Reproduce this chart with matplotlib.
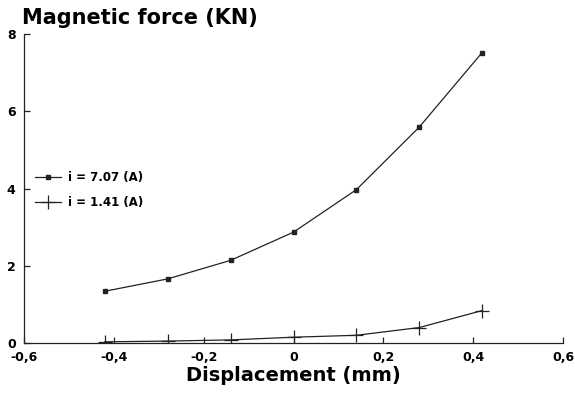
import matplotlib
matplotlib.use("Agg")
import matplotlib.pyplot as plt

displacement = [-0.42, -0.28, -0.14, 0.0, 0.14, 0.28, 0.42]
force_707 = [1.34, 1.66, 2.14, 2.87, 3.97, 5.59, 7.52]
force_141 = [0.03, 0.05, 0.08, 0.15, 0.20, 0.40, 0.84]
label_707 = "i = 7.07 (A)"
label_141 = "i = 1.41 (A)"
xticks = [-0.6, -0.4, -0.2, 0, 0.2, 0.4, 0.6]
xticklabels = ["-0,6", "-0,4", "-0,2", "0", "0,2", "0,4", "0,6"]
yticks = [0, 2, 4, 6, 8]

plt.rcParams['font.family'] = ['DejaVu Sans']
fig = plt.figure(figsize=(5.75, 3.98), dpi=100)
ax = fig.add_axes([24/575, 1-343/398, (563-24)/575, (343-34)/398])

c = "#222222"
ax.plot(displacement, force_707, color=c, lw=0.9, marker='s', ms=3, mfc=c, mec=c, label=label_707)
ax.plot(displacement, force_141, color=c, lw=0.9, marker='+', ms=10, mew=0.9, label=label_141)

ax.set_xlim(-0.6, 0.6)
ax.set_ylim(0, 8)
ax.set_xticks(xticks)
ax.set_xticklabels(xticklabels)
ax.set_yticks(yticks)
ax.tick_params(direction='in', length=4, width=0.9, colors=c, labelsize=9, pad=6)
for lab in ax.get_xticklabels() + ax.get_yticklabels():
    lab.set_fontweight('bold')
    lab.set_color('black')
for s in ['top', 'right']:
    ax.spines[s].set_visible(False)
for s in ['left', 'bottom']:
    ax.spines[s].set_color(c)
    ax.spines[s].set_linewidth(0.9)

ax.set_xlabel("Displacement (mm)", fontsize=14, fontweight='bold', labelpad=1)
fig.text(22/575, 1-18/398, "Magnetic force (KN)", fontsize=15, fontweight='bold',
         ha='left', va='center')

leg = ax.legend(loc='upper left', bbox_to_anchor=(0.005, 0.582), frameon=False,
                prop={'weight': 'bold', 'size': 8.5}, handlelength=2.2,
                handletextpad=0.6, labelspacing=1.0, borderaxespad=0.3)

fig.savefig("out.png", dpi=100)
